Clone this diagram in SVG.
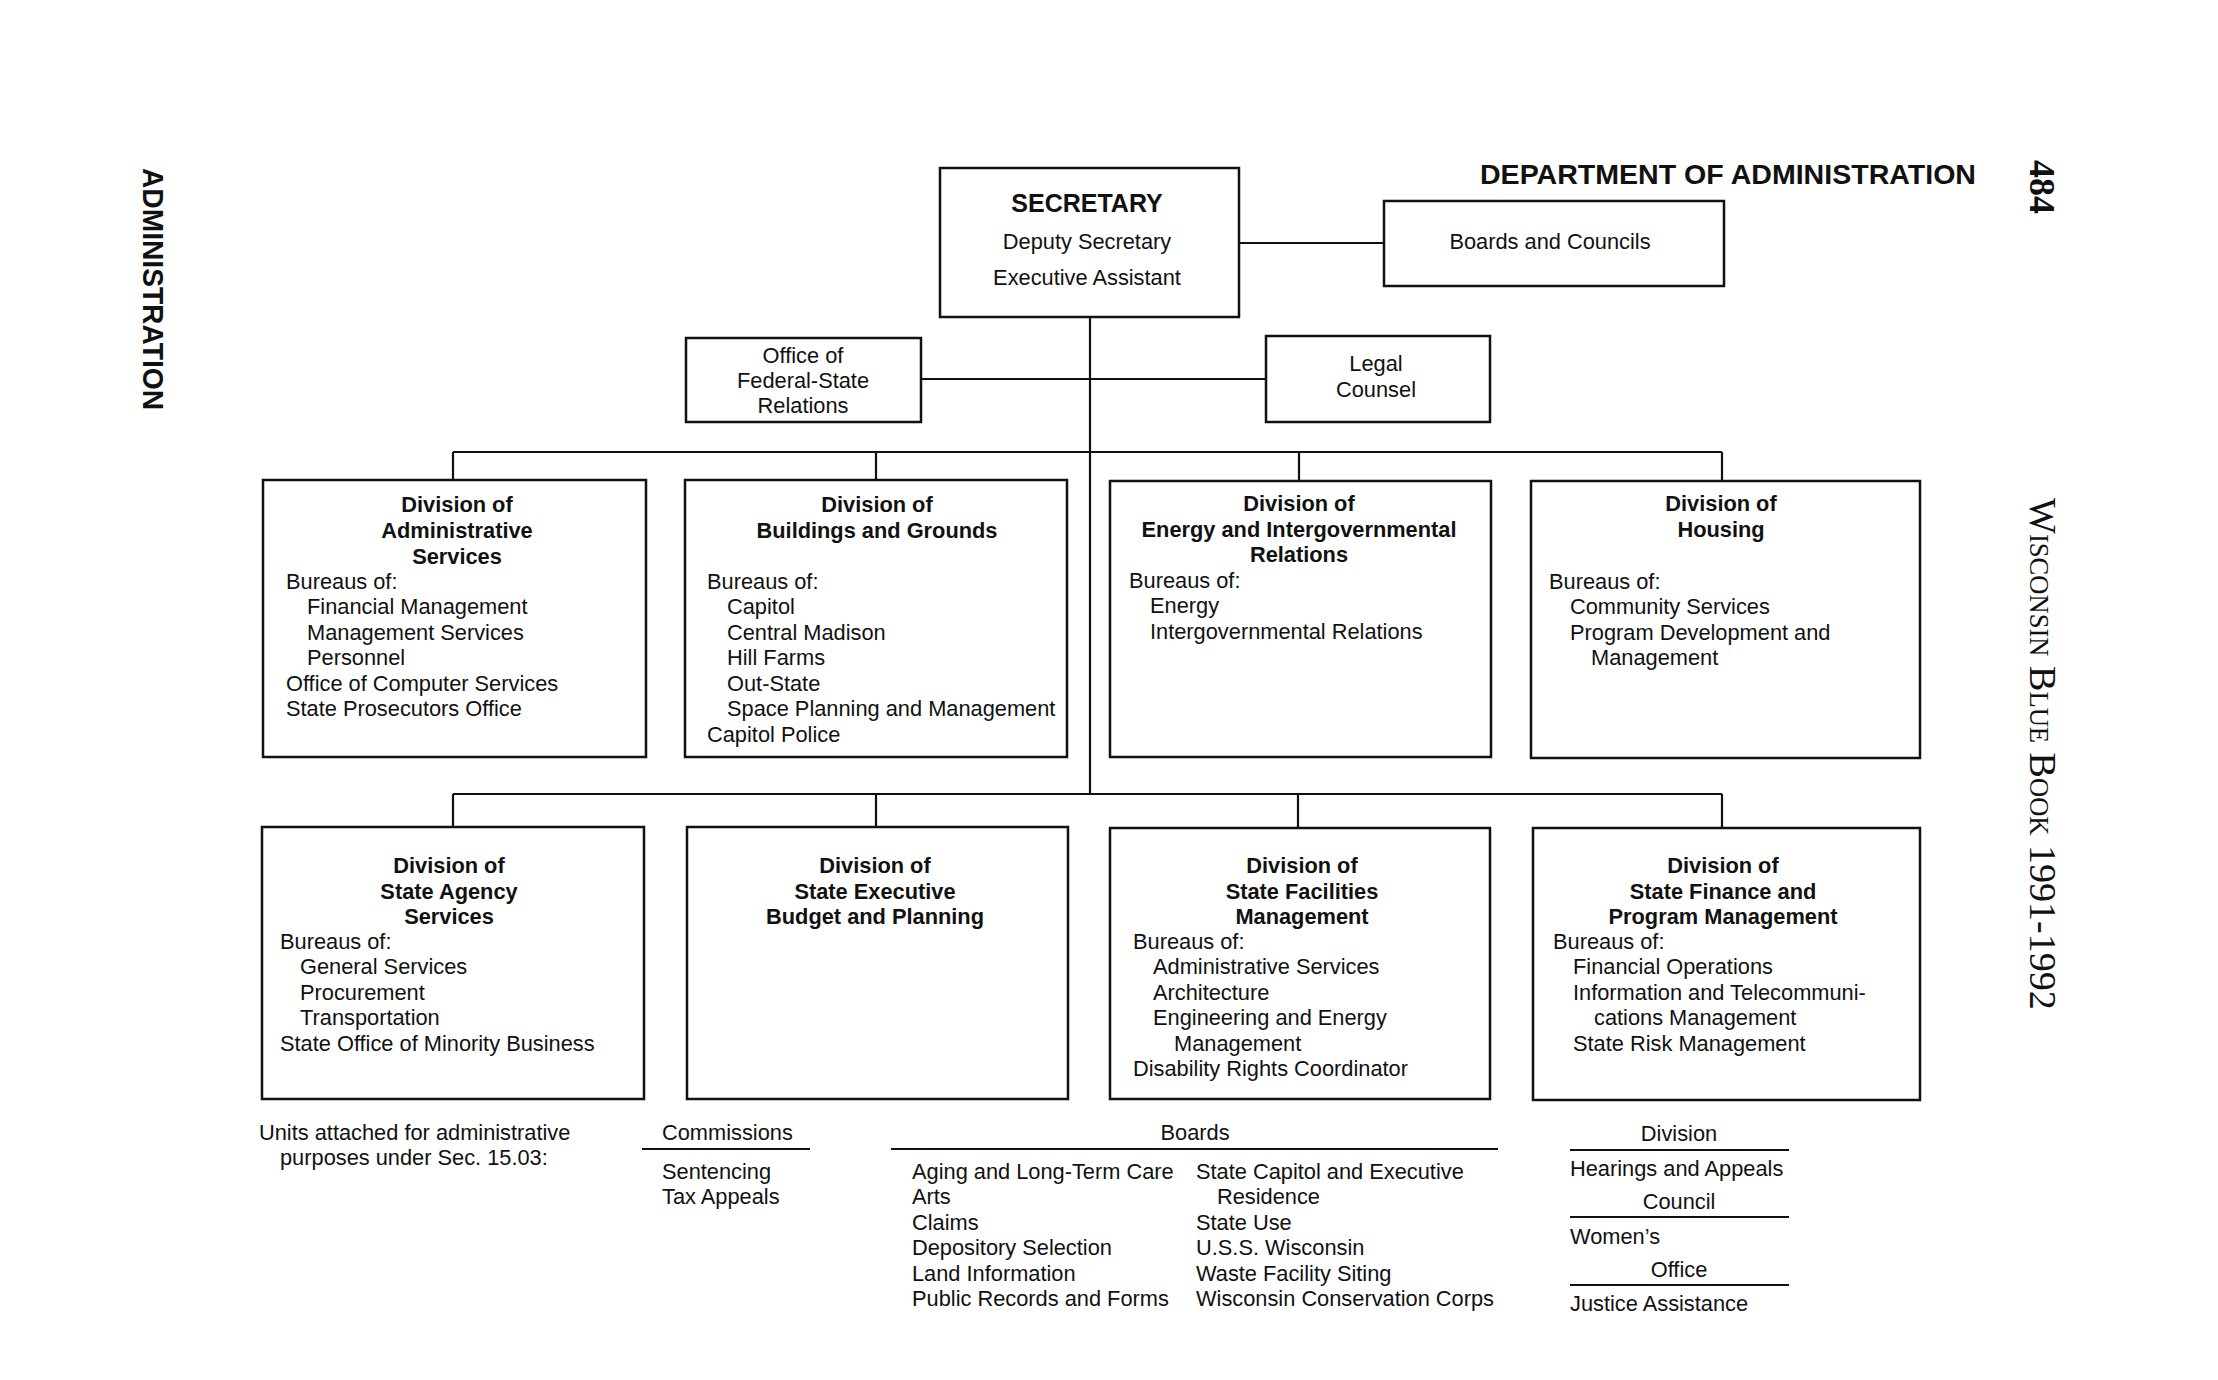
<svg xmlns="http://www.w3.org/2000/svg" width="2218" height="1380" viewBox="0 0 2218 1380">
<style>
.box{fill:#fff;stroke:#111;stroke-width:2.5}
.ln{stroke:#111;stroke-width:2.2;fill:none}
text{font-family:"Liberation Sans",Arial,Helvetica,sans-serif;font-size:21.8px;fill:#111}
.b{font-weight:bold}
.c{text-anchor:middle}
.serif{font-family:"Liberation Serif","Times New Roman",serif}
</style>
<rect width="2218" height="1380" fill="#fff"/>

<g id="page-headers">
<text class="b" x="1480" y="184" style="font-size:28.5px" textLength="496" lengthAdjust="spacingAndGlyphs">DEPARTMENT OF ADMINISTRATION</text>
<text class="b" transform="translate(143,168) rotate(90)" style="font-size:29px" textLength="242" lengthAdjust="spacingAndGlyphs">ADMINISTRATION</text>
<text class="serif b" transform="translate(2030,160) rotate(90)" style="font-size:36px">484</text>
<text class="serif" transform="translate(2030,498) rotate(90)" style="font-size:38px">W<tspan style="font-size:26.6px">ISCONSIN</tspan> B<tspan style="font-size:26.6px">LUE</tspan> B<tspan style="font-size:26.6px">OOK</tspan> 1991-1992</text>
</g>

<g id="connectors">
<line class="ln" x1="1090" y1="317" x2="1090" y2="794"/>
<line class="ln" x1="1239" y1="243" x2="1384" y2="243"/>
<line class="ln" x1="921" y1="379" x2="1266" y2="379"/>
<line class="ln" x1="453" y1="452" x2="1722" y2="452"/>
<line class="ln" x1="453" y1="452" x2="453" y2="480"/>
<line class="ln" x1="876" y1="452" x2="876" y2="480"/>
<line class="ln" x1="1299" y1="452" x2="1299" y2="481"/>
<line class="ln" x1="1722" y1="452" x2="1722" y2="481"/>
<line class="ln" x1="453" y1="794" x2="1722" y2="794"/>
<line class="ln" x1="453" y1="794" x2="453" y2="827"/>
<line class="ln" x1="876" y1="794" x2="876" y2="827"/>
<line class="ln" x1="1298" y1="794" x2="1298" y2="828"/>
<line class="ln" x1="1722" y1="794" x2="1722" y2="828"/>
</g>

<g id="secretary">
<rect class="box" x="940" y="168" width="299" height="149"/>
<text class="b c" x="1087" y="212" style="font-size:25px">SECRETARY</text>
<text class="c" x="1087" y="249">Deputy Secretary</text>
<text class="c" x="1087" y="285">Executive Assistant</text>
</g>

<g id="boards-councils">
<rect class="box" x="1384" y="201" width="340" height="85"/>
<text class="c" x="1550" y="249">Boards and Councils</text>
</g>

<g id="federal-state">
<rect class="box" x="686" y="338" width="235" height="84"/>
<text class="c" x="803" y="363">Office of</text>
<text class="c" x="803" y="388">Federal-State</text>
<text class="c" x="803" y="413">Relations</text>
</g>

<g id="legal-counsel">
<rect class="box" x="1266" y="336" width="224" height="86"/>
<text class="c" x="1376" y="371">Legal</text>
<text class="c" x="1376" y="397">Counsel</text>
</g>

<g id="div-admin-services">
<rect class="box" x="263" y="480" width="383" height="277"/>
<text class="b c" x="457" y="512">Division of</text>
<text class="b c" x="457" y="538">Administrative</text>
<text class="b c" x="457" y="564">Services</text>
<text x="286" y="589">Bureaus of:</text>
<text x="307" y="614">Financial Management</text>
<text x="307" y="640">Management Services</text>
<text x="307" y="665">Personnel</text>
<text x="286" y="691">Office of Computer Services</text>
<text x="286" y="716">State Prosecutors Office</text>
</g>

<g id="div-buildings">
<rect class="box" x="685" y="480" width="382" height="277"/>
<text class="b c" x="877" y="512">Division of</text>
<text class="b c" x="877" y="538">Buildings and Grounds</text>
<text x="707" y="589">Bureaus of:</text>
<text x="727" y="614">Capitol</text>
<text x="727" y="640">Central Madison</text>
<text x="727" y="665">Hill Farms</text>
<text x="727" y="691">Out-State</text>
<text x="727" y="716">Space Planning and Management</text>
<text x="707" y="742">Capitol Police</text>
</g>

<g id="div-energy">
<rect class="box" x="1110" y="481" width="381" height="276"/>
<text class="b c" x="1299" y="511">Division of</text>
<text class="b c" x="1299" y="537">Energy and Intergovernmental</text>
<text class="b c" x="1299" y="562">Relations</text>
<text x="1129" y="588">Bureaus of:</text>
<text x="1150" y="613">Energy</text>
<text x="1150" y="639">Intergovernmental Relations</text>
</g>

<g id="div-housing">
<rect class="box" x="1531" y="481" width="389" height="277"/>
<text class="b c" x="1721" y="511">Division of</text>
<text class="b c" x="1721" y="537">Housing</text>
<text x="1549" y="589">Bureaus of:</text>
<text x="1570" y="614">Community Services</text>
<text x="1570" y="640">Program Development and</text>
<text x="1591" y="665">Management</text>
</g>

<g id="div-state-agency">
<rect class="box" x="262" y="827" width="382" height="272"/>
<text class="b c" x="449" y="873">Division of</text>
<text class="b c" x="449" y="899">State Agency</text>
<text class="b c" x="449" y="924">Services</text>
<text x="280" y="949">Bureaus of:</text>
<text x="300" y="974">General Services</text>
<text x="300" y="1000">Procurement</text>
<text x="300" y="1025">Transportation</text>
<text x="280" y="1051">State Office of Minority Business</text>
</g>

<g id="div-budget">
<rect class="box" x="687" y="827" width="381" height="272"/>
<text class="b c" x="875" y="873">Division of</text>
<text class="b c" x="875" y="899">State Executive</text>
<text class="b c" x="875" y="924">Budget and Planning</text>
</g>

<g id="div-facilities">
<rect class="box" x="1110" y="828" width="380" height="271"/>
<text class="b c" x="1302" y="873">Division of</text>
<text class="b c" x="1302" y="899">State Facilities</text>
<text class="b c" x="1302" y="924">Management</text>
<text x="1133" y="949">Bureaus of:</text>
<text x="1153" y="974">Administrative Services</text>
<text x="1153" y="1000">Architecture</text>
<text x="1153" y="1025">Engineering and Energy</text>
<text x="1174" y="1051">Management</text>
<text x="1133" y="1076">Disability Rights Coordinator</text>
</g>

<g id="div-finance">
<rect class="box" x="1533" y="828" width="387" height="272"/>
<text class="b c" x="1723" y="873">Division of</text>
<text class="b c" x="1723" y="899">State Finance and</text>
<text class="b c" x="1723" y="924">Program Management</text>
<text x="1553" y="949">Bureaus of:</text>
<text x="1573" y="974">Financial Operations</text>
<text x="1573" y="1000">Information and Telecommuni-</text>
<text x="1594" y="1025">cations Management</text>
<text x="1573" y="1051">State Risk Management</text>
</g>

<g id="attached-units">
<text x="259" y="1140">Units attached for administrative</text>
<text x="280" y="1165">purposes under Sec. 15.03:</text>
</g>

<g id="commissions">
<text x="662" y="1140">Commissions</text>
<line class="ln" x1="642" y1="1149" x2="810" y2="1149"/>
<text x="662" y="1179">Sentencing</text>
<text x="662" y="1204">Tax Appeals</text>
</g>

<g id="boards">
<text class="c" x="1195" y="1140">Boards</text>
<line class="ln" x1="891" y1="1149" x2="1498" y2="1149"/>
<text x="912" y="1179">Aging and Long-Term Care</text>
<text x="912" y="1204">Arts</text>
<text x="912" y="1230">Claims</text>
<text x="912" y="1255">Depository Selection</text>
<text x="912" y="1281">Land Information</text>
<text x="912" y="1306">Public Records and Forms</text>
<text x="1196" y="1179">State Capitol and Executive</text>
<text x="1217" y="1204">Residence</text>
<text x="1196" y="1230">State Use</text>
<text x="1196" y="1255">U.S.S. Wisconsin</text>
<text x="1196" y="1281">Waste Facility Siting</text>
<text x="1196" y="1306">Wisconsin Conservation Corps</text>
</g>

<g id="division-council-office">
<text class="c" x="1679" y="1141">Division</text>
<line class="ln" x1="1570" y1="1150" x2="1789" y2="1150"/>
<text x="1570" y="1176">Hearings and Appeals</text>
<text class="c" x="1679" y="1209">Council</text>
<line class="ln" x1="1570" y1="1217" x2="1789" y2="1217"/>
<text x="1570" y="1244">Women’s</text>
<text class="c" x="1679" y="1277">Office</text>
<line class="ln" x1="1570" y1="1285" x2="1789" y2="1285"/>
<text x="1570" y="1311">Justice Assistance</text>
</g>
</svg>
